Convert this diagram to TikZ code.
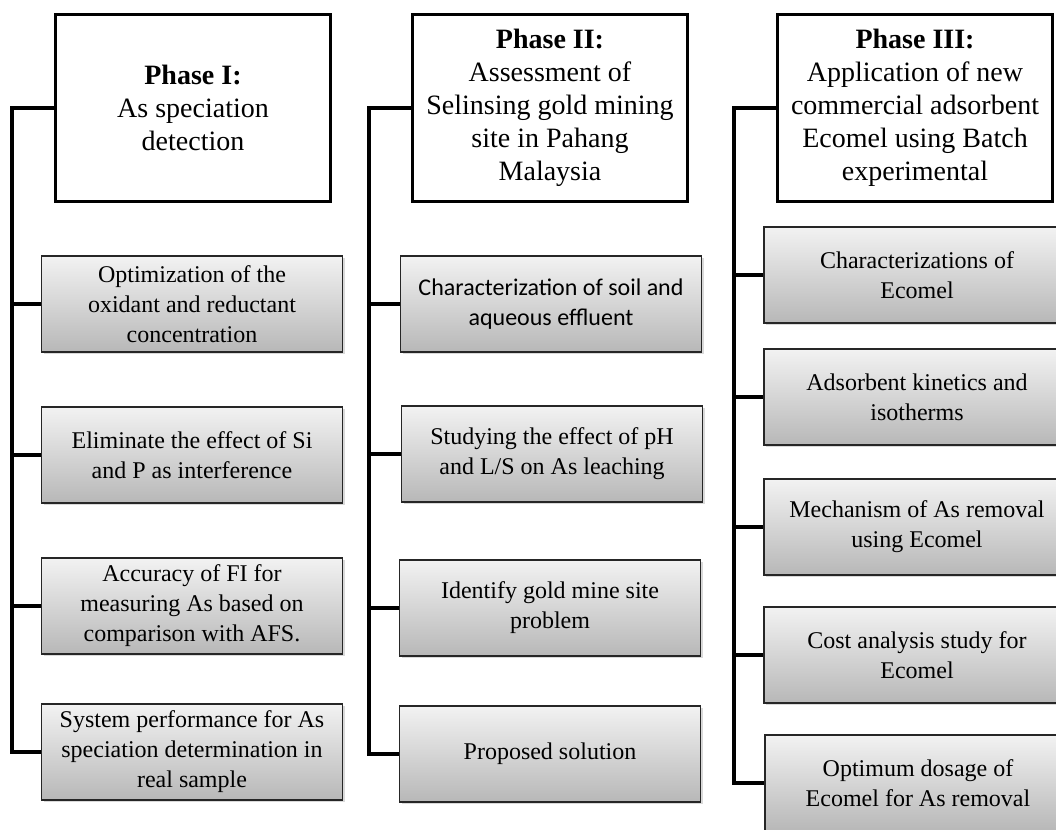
\documentclass[tikz,border=0pt]{standalone}
\usepackage{fontspec}
\setmainfont{Liberation Serif}
\newfontfamily\calibri{Carlito}
\usetikzlibrary{shadows}

\begin{document}
\begin{tikzpicture}[x=1pt,y=-1pt,
    phase/.style={draw,line width=2.8pt,fill=white,minimum width=275pt,minimum height=187pt,align=center,font=\fontsize{28}{33}\selectfont},
    task/.style={draw=black!85,line width=1.6pt,top color=black!5,bottom color=black!28,drop shadow={opacity=0.3,shadow xshift=2pt,shadow yshift=-2pt},minimum width=301pt,minimum height=96pt,align=center,font=\fontsize{24}{30}\selectfont},
    link/.style={line width=3.2pt}]
  \path[use as bounding box] (0,0) rectangle (1056,829);
  \clip (0,0) rectangle (1056,829);

  \node[phase] (p1) at (193,108) {\textbf{Phase I:}\\As speciation\\detection};
  \node[task] (a1) at (192,304) {Optimization of the\\oxidant and reductant\\concentration};
  \node[task] (a2) at (192,455) {Eliminate the effect of Si\\and P as interference};
  \node[task] (a3) at (192,606) {Accuracy of FI for\\measuring As based on\\comparison with AFS.};
  \node[task] (a4) at (192,752) {System performance for As\\speciation determination in\\real sample};

  \node[phase] (p2) at (550,108) {\textbf{Phase II:}\\Assessment of\\Selinsing gold mining\\site in Pahang\\Malaysia};
  \node[task] (b1) at (551,304) {\calibri Characterization of soil and\\\calibri aqueous effluent};
  \node[task] (b2) at (552,454) {Studying the effect of pH\\and L/S on As leaching};
  \node[task] (b3) at (550,608) {Identify gold mine site\\problem};
  \node[task] (b4) at (550,754) {Proposed solution};

  \node[phase] (p3) at (915,108) {\textbf{Phase III:}\\Application of new\\commercial adsorbent\\Ecomel using Batch\\experimental};
  \node[task,minimum width=306pt] (c1) at (917,275) {Characterizations of\\Ecomel};
  \node[task,minimum width=306pt] (c2) at (917,397) {Adsorbent kinetics and\\isotherms};
  \node[task,minimum width=306pt] (c3) at (917,527) {Mechanism of As removal\\using Ecomel};
  \node[task,minimum width=306pt] (c4) at (917,655) {Cost analysis study for\\Ecomel};
  \node[task,minimum width=306pt] (c5) at (918,783) {Optimum dosage of\\Ecomel for As removal};

  \coordinate (t1) at (12,108);
  \coordinate (t2) at (369,108);
  \coordinate (t3) at (734,108);

  \draw[link] (p1.west) -- (t1) |- (a4.west);
  \draw[link] (t1 |- a1.west) -- (a1.west);
  \draw[link] (t1 |- a2.west) -- (a2.west);
  \draw[link] (t1 |- a3.west) -- (a3.west);

  \draw[link] (p2.west) -- (t2) |- (b4.west);
  \draw[link] (t2 |- b1.west) -- (b1.west);
  \draw[link] (t2 |- b2.west) -- (b2.west);
  \draw[link] (t2 |- b3.west) -- (b3.west);

  \draw[link] (p3.west) -- (t3) |- (c5.west);
  \draw[link] (t3 |- c1.west) -- (c1.west);
  \draw[link] (t3 |- c2.west) -- (c2.west);
  \draw[link] (t3 |- c3.west) -- (c3.west);
  \draw[link] (t3 |- c4.west) -- (c4.west);
\end{tikzpicture}
\end{document}
